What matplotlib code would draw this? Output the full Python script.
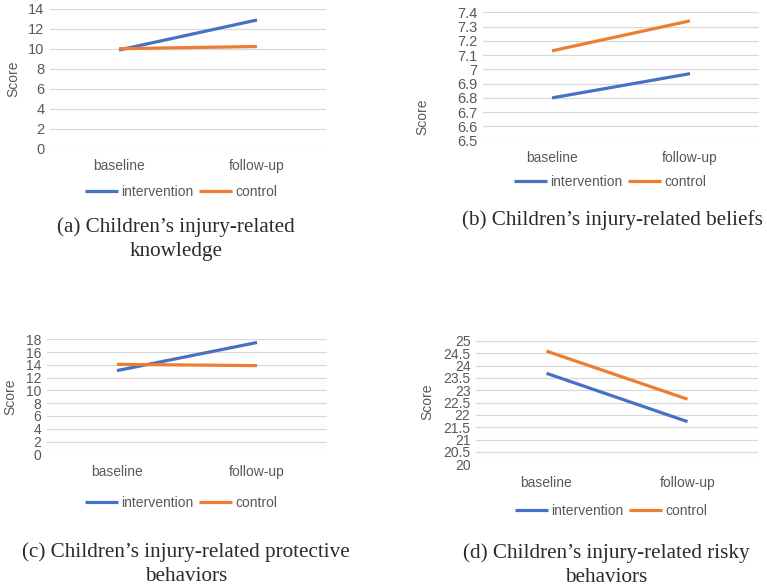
import matplotlib.pyplot as plt

W, H = 767, 587

times = ["baseline", "follow-up"]
series = ["intervention", "control"]
colors = ["#4472C4", "#ED7D31"]

knowledge_int = [9.9, 12.9]
knowledge_ctl = [10.03, 10.25]
beliefs_int = [6.80, 6.97]
beliefs_ctl = [7.13, 7.34]
protective_int = [13.1, 17.5]
protective_ctl = [14.08, 13.88]
risky_int = [23.69, 21.73]
risky_ctl = [24.59, 22.64]

captions = [
    ["(a) Children\u2019s injury-related", "knowledge"],
    ["(b) Children\u2019s injury-related beliefs"],
    ["(c) Children\u2019s injury-related protective", "behaviors"],
    ["(d) Children\u2019s injury-related risky", "behaviors"],
]

plt.rcParams["font.family"] = ["Liberation Sans", "DejaVu Sans"]
fig = plt.figure(figsize=(W / 100, H / 100), dpi=100)

FS = 10
GRAY = "#595959"


def px_axes(left, right, top, bottom):
    return fig.add_axes([left / W, 1 - bottom / H, (right - left) / W, (bottom - top) / H])


# ---------- PANELS ----------
# box in pixels (left, right, top, bottom), caption = (center x, first baseline y)
panels = [
    dict(box=(50, 326, 9, 149), ylim=(0, 14), step=2, tfs=10.5,
         data=(knowledge_int, knowledge_ctl), score=(13, 79), caty=166,
         leg=(181, 192), cap=(176, 232)),
    dict(box=(483, 759, 12.3, 140.7), ylim=(6.5, 7.4), step=0.1, tfs=10.5,
         data=(beliefs_int, beliefs_ctl), score=(422, 117), caty=158,
         leg=(610, 182), cap=(612, 225)),
    dict(box=(47, 327, 339.3, 454.3), ylim=(0, 18), step=2, tfs=10,
         data=(protective_int, protective_ctl), score=(10, 397), caty=472,
         leg=(181, 503), cap=(186, 557)),
    dict(box=(476, 758, 341, 464.3), ylim=(20, 25), step=0.5, tfs=10,
         data=(risky_int, risky_ctl), score=(427, 402), caty=483,
         leg=(611, 511), cap=(606, 558)),
]

for p, cap in zip(panels, captions):
    left, right, top, bottom = p["box"]
    ax = px_axes(left, right, top, bottom)
    lo, hi = p["ylim"]
    n = int(round((hi - lo) / p["step"]))
    ticks = [lo + i * p["step"] for i in range(n + 1)]
    ax.set_ylim(lo, hi)
    ax.set_xlim(0, 2)
    ax.set_yticks(ticks)
    ax.set_yticklabels(["{:g}".format(round(t, 2)) for t in ticks])
    ax.tick_params(axis="y", length=0, labelsize=p["tfs"], labelcolor=GRAY, pad=4)
    for t in ticks:
        ax.axhline(t, color="#D9D9D9", lw=0.9, zorder=0)
    for s in ax.spines.values():
        s.set_visible(False)
    ax.set_xticks([])
    ax.patch.set_alpha(0)

    handles = []
    for vals, name, c in zip(p["data"], series, colors):
        h, = ax.plot([0.5, 1.5], vals, color=c, lw=2.3, solid_capstyle="butt",
                     label=name, clip_on=False)
        handles.append(h)

    # category labels
    for xi, lab in zip([0.5, 1.5], times):
        xp = left + xi / 2 * (right - left)
        fig.text(xp / W, 1 - p["caty"] / H, lab, ha="center", va="center",
                 fontsize=FS, color=GRAY)

    sx, sy = p["score"]
    fig.text(sx / W, 1 - sy / H, "Score", rotation=90, ha="center", va="center",
             fontsize=FS, color=GRAY)

    lx, ly = p["leg"]
    fig.legend(handles=handles, loc="center", bbox_to_anchor=(lx / W, 1 - ly / H), ncol=2,
               frameon=False, fontsize=FS, labelcolor=GRAY,
               handlelength=2.4, handletextpad=0.25, columnspacing=0.35, borderpad=0)

    cx, cy = p["cap"]
    for i, line in enumerate(cap):
        fig.text(cx / W, 1 - (cy + 24 * i) / H, line, ha="center", va="baseline",
                 fontsize=15.2, family=["Liberation Serif", "DejaVu Serif"], color="#2b2b2b")

fig.savefig("out.png", dpi=100)
